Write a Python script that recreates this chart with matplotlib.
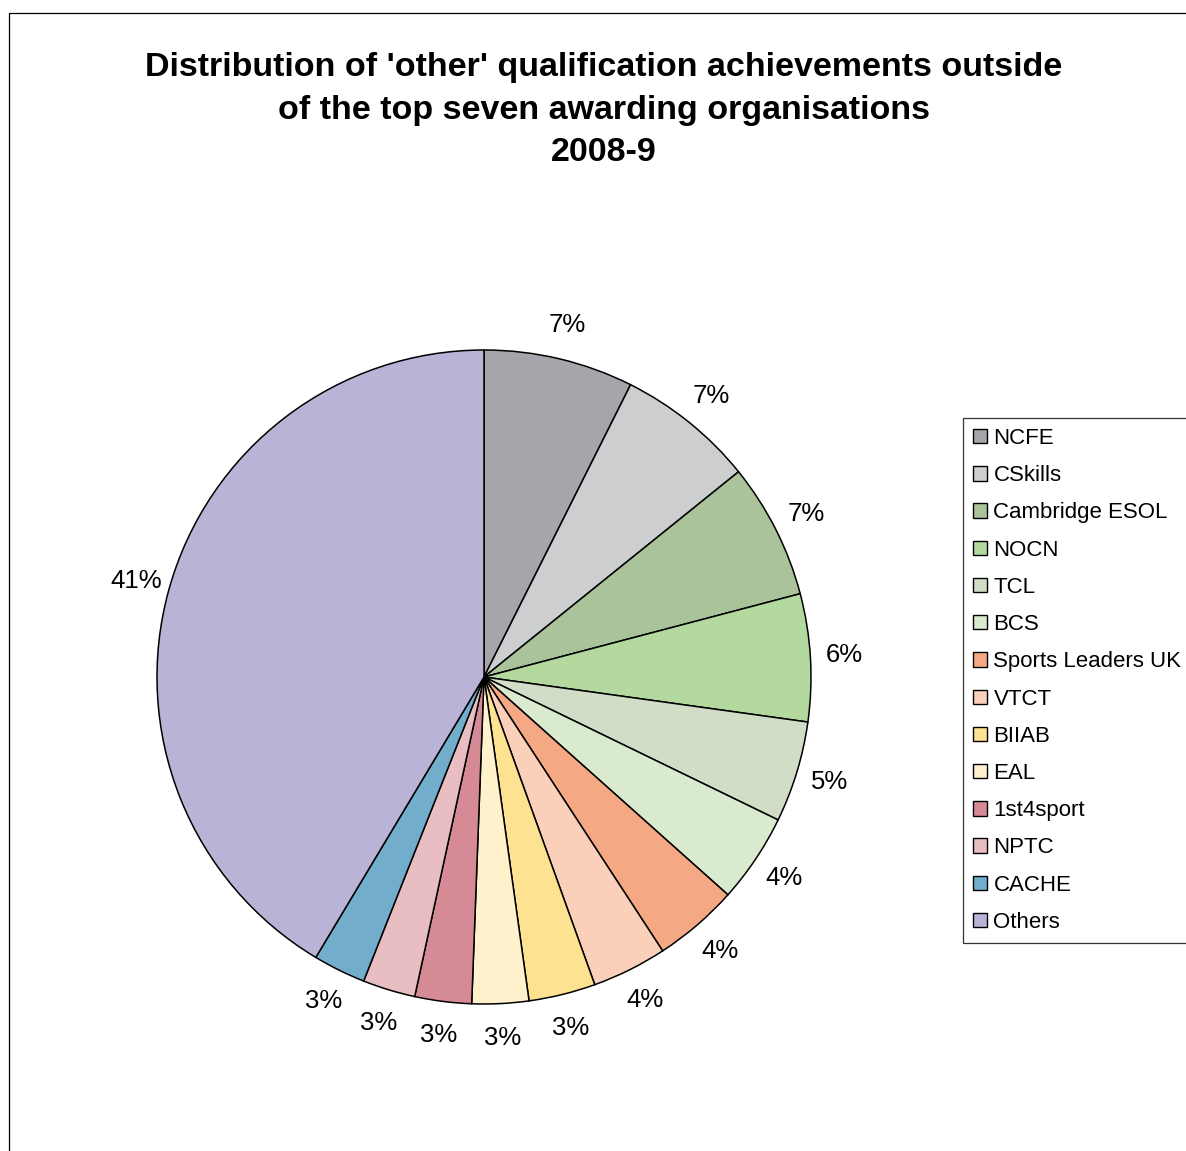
import matplotlib
matplotlib.use("Agg")
import matplotlib.pyplot as plt
from matplotlib.patches import Rectangle

plt.rcParams['font.family'] = ['Liberation Sans', 'DejaVu Sans']

categories = ["NCFE", "CSkills", "Cambridge ESOL", "NOCN", "TCL", "BCS",
              "Sports Leaders UK", "VTCT", "BIIAB", "EAL", "1st4sport",
              "NPTC", "CACHE", "Others"]
values = [7.4, 6.8, 6.7, 6.3, 5.0, 4.4, 4.2, 3.7, 3.3, 2.8, 2.8, 2.6, 2.6, 41.4]
colors = ["#A6A5AB", "#CDCED0", "#ABC39A", "#B3D99F", "#D2DDC8", "#D9EACF",
          "#F4A984", "#FAD0BB", "#FDE291", "#FEF1CB", "#D68A95", "#E8BEC2",
          "#72ADCB", "#BBB3D6"]
title = ("Distribution of 'other' qualification achievements outside\n"
         "of the top seven awarding organisations\n2008-9")

W, H = 1186, 1151
fig = plt.figure(figsize=(W / 100, H / 100), dpi=100)
fig.patch.set_facecolor("white")

cx, cy, r = 484, 677, 327
ax = fig.add_axes([(cx - r) / W, 1 - (cy + r) / H, 2 * r / W, 2 * r / H])
wedges, texts, autotexts = ax.pie(
    values, colors=colors, startangle=90, counterclock=False,
    autopct=lambda p: f"{p:.0f}%", pctdistance=1.105,
    wedgeprops=dict(edgecolor="black", linewidth=1.1),
    textprops=dict(fontsize=18.5, color="black"))
ax.set_xlim(-1, 1)
ax.set_ylim(-1, 1)
ax.set_aspect("equal")
ax.axis("off")

fig.text(604 / W, 1 - 110 / H, title, ha="center", va="center",
         fontsize=24.5, fontweight="bold", linespacing=1.46)

leg = fig.legend(wedges, categories, loc="upper left",
                 bbox_to_anchor=(963 / W, 1 - 418 / H),
                 fontsize=16, frameon=True, fancybox=False, shadow=False,
                 handlelength=0.62, handleheight=0.62, handletextpad=0.3,
                 labelspacing=0.73, borderpad=0.45, borderaxespad=0)
leg.get_frame().set_edgecolor("black")
leg.get_frame().set_linewidth(0.9)
for h in leg.legend_handles:
    h.set_edgecolor("black")
    h.set_linewidth(1.0)

frame = Rectangle((9 / W, -0.5), 2.0, 1 - 13 / H + 0.5, transform=fig.transFigure,
                  fill=False, edgecolor="black", linewidth=0.9)
fig.patches.append(frame)

fig.savefig("out.png", dpi=100)
